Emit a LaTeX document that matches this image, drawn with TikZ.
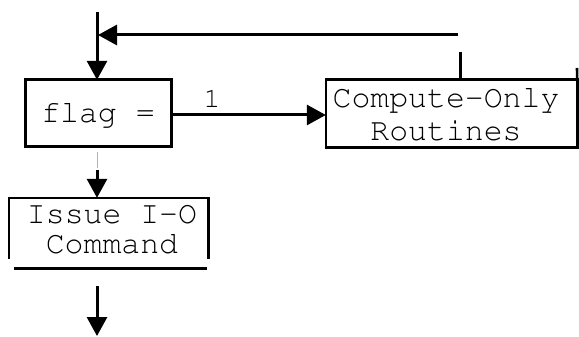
\documentclass[tikz,border=0pt]{standalone}
\usepackage[T1]{fontenc}
\usetikzlibrary{arrows.meta}
\newcommand{\courfont}[2]{\fontencoding{T1}\fontfamily{pcr}\fontsize{#1}{#2}\selectfont}
\tikzset{
  conn/.style={line width=3pt, -{Triangle[length=19pt,width=20pt]}},
  plain/.style={line width=3pt},
  boxtext/.style={font=\courfont{31.5}{31}, align=center, inner sep=0pt},
  boxline/.style={line width=2.6pt},
}
\begin{document}
\begin{tikzpicture}[x=1pt,y=-1pt]
\useasboundingbox (0,0) rectangle (579,337);
% flag box
\node[boxtext, minimum width=146pt, minimum height=66pt] (flag) at (98.5,113) {};
\node[boxtext, anchor=base] (flagtxt) at (98,122) {flag =};
\draw[boxline] (flag.north west) rectangle (flag.south east);
\draw[line width=3.6pt] (flag.north west) -- (flag.south west);
% compute box
\node[boxtext, minimum width=251pt, minimum height=67pt] (comp) at (451.5,113.5) {};
\node[boxtext, anchor=base] (comp1) at (446,108) {Compute-Only};
\node[boxtext, anchor=base] (comp2) at (446,140) {Routines};
\draw[boxline] (comp.north west) rectangle (comp.south east);
\coordinate (crt) at (577,68);
\draw[boxline] (comp.north east) -- (crt);
% issue box
\node[boxtext, minimum width=199pt, minimum height=61pt] (issue) at (108.5,228.5) {};
\node[boxtext, anchor=base] (iss1) at (112,223) {Issue I-O};
\node[boxtext, anchor=base] (iss2) at (112,253) {Command};
\draw[boxline] (issue.south west) -- (issue.north west) -- (issue.north east) -- (issue.south east);
\coordinate (ibl) at (14,268);
\coordinate (ibr) at (207,268);
\draw[line width=3pt] (ibl) -- (ibr);
% connectors
\coordinate (top) at (97,12);
\draw[conn] (top) -- (flag.north -| top);
\coordinate (retA) at (460,52);
\coordinate (retB) at (458,35);
\coordinate (retC) at (98,35);
\draw[plain] (comp.north -| retA) -- (retA);
\draw[conn] (retB) -- (retC);
\coordinate (fr) at (172,115);
\draw[conn] (fr) -- (fr -| comp.west);
\node[font=\courfont{28}{28}, anchor=base, inner sep=0pt] (one) at (212,107) {1};
\coordinate (g1) at (97,152);
\coordinate (g2) at (97,168);
\draw[gray!60, line width=1pt] (g1) -- (g2);
\coordinate (a1) at (97,170);
\draw[conn] (a1) -- (issue.north -| a1);
\coordinate (b1) at (97,286);
\coordinate (b2) at (97,336);
\draw[conn] (b1) -- (b2);
\end{tikzpicture}
\end{document}
